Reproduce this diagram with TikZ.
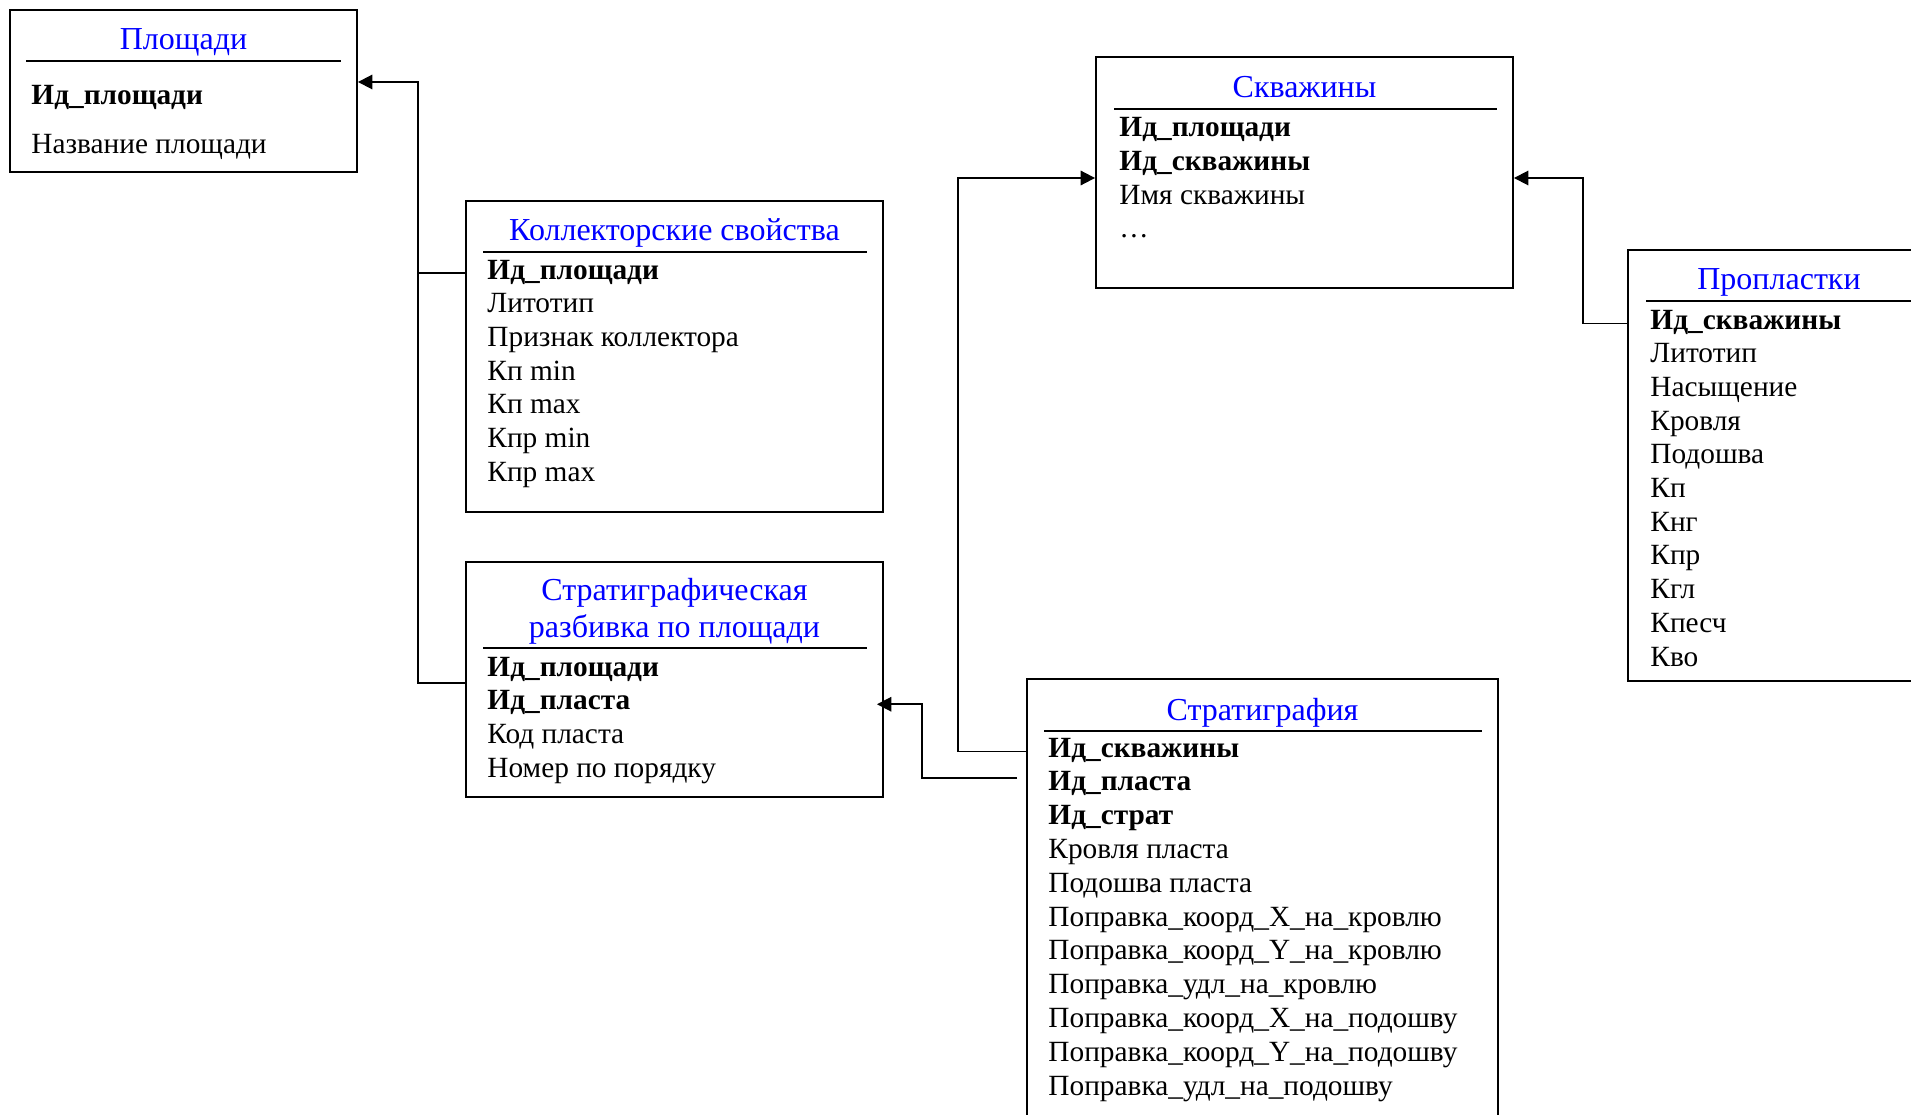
\documentclass[tikz,border=0pt]{standalone}
\usepackage{fontspec}
\setmainfont{Liberation Serif}
\usetikzlibrary{arrows.meta,calc,fit}
\definecolor{titleblue}{HTML}{0000FF}

\begin{document}
\begin{tikzpicture}[x=0.45pt, y=-0.45pt,
  tblbox/.style={draw, line width=0.85pt, inner sep=0pt},
  tbltitle/.style={text=titleblue, font=\fontsize{14.4}{17}\selectfont, anchor=base, inner sep=0pt},
  tblrule/.style={line width=0.95pt},
  fieldrow/.style={font=\fontsize{13.2}{15}\selectfont, anchor=base west, inner sep=0pt,
    text height=8pt, text depth=3pt},
  link/.style={line width=0.85pt},
  linkarrow/.style={link, -{Triangle[length=6.5pt, width=6.5pt]}}
]
\path[use as bounding box, fill=white] (0,0) rectangle (1911,1115);

% tables
\node[tblbox, fit={(10,10) (357,172)}] (plosh) {};
\node[tblbox, fit={(466,201) (883,512)}] (koll) {};
\node[tblbox, fit={(466,562) (883,797)}] (razb) {};
\node[tblbox, fit={(1096,57) (1513,288)}] (skv) {};
\node[tblbox, fit={(1628,250) (1940,681)}] (prop) {};
\node[tblbox, fit={(1027,679) (1498,1140)}] (strat) {};

\node[tbltitle] (plosh-t) at (183.5,50) {Площади};
\node[tbltitle] (koll-t) at (674.5,241) {Коллекторские свойства};
\node[tbltitle] (razb-t1) at (674.5,600) {Стратиграфическая};
\node[tbltitle] (razb-t2) at (674.5,637) {разбивка по площади};
\node[tbltitle] (skv-t) at (1304.5,98) {Скважины};
\node[tbltitle] (prop-t) at (1779,290) {Пропластки};
\node[tbltitle] (strat-t) at (1262.5,720) {Стратиграфия};

\draw[tblrule] (26,61) -- (341,61);
\draw[tblrule] (483,252) -- (867,252);
\draw[tblrule] (483,648) -- (867,648);
\draw[tblrule] (1114,109) -- (1497,109);
\draw[tblrule] (1646,301) -- (1940,301);
\draw[tblrule] (1044,731) -- (1482,731);

% fields
\node[fieldrow] (plosh-1) at (31,105) {\textbf{Ид\_площади}};
\node[fieldrow] (plosh-2) at (31,154) {Название площади};
\foreach \f [count=\i] in {\textbf{Ид\_площади}, Литотип, Признак коллектора,
    Кп min, Кп max, Кпр min, Кпр max}
  \node[fieldrow] (koll-\i) at (487,{279+33.7*(\i-1)}) {\f};
\foreach \f [count=\i] in {\textbf{Ид\_площади}, \textbf{Ид\_пласта}, Код пласта,
    Номер по порядку}
  \node[fieldrow] (razb-\i) at (487,{676+33.8*(\i-1)}) {\f};
\foreach \f [count=\i] in {\textbf{Ид\_площади}, \textbf{Ид\_скважины}, Имя скважины, …}
  \node[fieldrow] (skv-\i) at (1119,{137+33.6*(\i-1)}) {\f};
\foreach \f [count=\i] in {\textbf{Ид\_скважины}, Литотип, Насыщение, Кровля, Подошва,
    Кп, Кнг, Кпр, Кгл, Кпесч, Кво}
  \node[fieldrow] (prop-\i) at (1650,{329+33.7*(\i-1)}) {\f};
\foreach \f [count=\i] in {\textbf{Ид\_скважины}, \textbf{Ид\_пласта}, \textbf{Ид\_страт},
    Кровля пласта, Подошва пласта, Поправка\_коорд\_X\_на\_кровлю,
    Поправка\_коорд\_Y\_на\_кровлю, Поправка\_удл\_на\_кровлю,
    Поправка\_коорд\_X\_на\_подошву, Поправка\_коорд\_Y\_на\_подошву,
    Поправка\_удл\_на\_подошву}
  \node[fieldrow] (strat-\i) at (1048,{757+33.8*(\i-1)}) {\f};

% links
\coordinate (ploshbus) at (418,82);
\coordinate (wellbus) at (958,178);
\coordinate (propbus) at (1583,178);
\coordinate (layerbus) at (922,0);
\draw[linkarrow] (razb.west |- razb-1.south) -| (ploshbus) -- (plosh.east |- ploshbus);
\draw[link] (koll.west |- koll-1) -- (ploshbus |- koll-1);
\draw[linkarrow] (strat.west |- strat-1) -| (wellbus) -- (skv.west |- wellbus);
\draw[linkarrow] (prop.west |- prop-1) -| (propbus) -- (skv.east |- propbus);
\draw[linkarrow] ($(strat.west |- strat-2)+(-9,-7)$) -| (layerbus |- razb-2)
  -- ($(razb.east |- razb-2)+(-7,0)$);
\end{tikzpicture}
\end{document}
